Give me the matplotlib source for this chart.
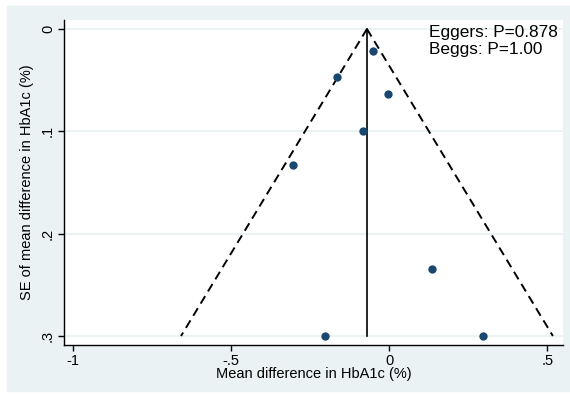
"""Funnel plot of mean difference in HbA1c vs its standard error."""
import numpy as np
import matplotlib.pyplot as plt
import matplotlib.patches as mpatches

# study estimates
MEAN_DIFF = [-0.05, -0.164, -0.002, -0.083, -0.303, 0.136, -0.203, 0.296]
SE = [0.0215, 0.0466, 0.0638, 0.0997, 0.1326, 0.235, 0.300, 0.300]
POOLED = -0.07
SE_MAX = 0.30
X_TICKS = [-1, -0.5, 0, 0.5]
X_TICKLABELS = ["-1", "-.5", "0", ".5"]
Y_TICKS = [0, 0.1, 0.2, 0.3]
Y_TICKLABELS = ["0", ".1", ".2", ".3"]
NOTE = "Eggers: P=0.878\nBeggs: P=1.00"

BG = "#eaf2f3"
NAVY = "#1a476f"

plt.rcParams["font.family"] = ["Liberation Sans", "DejaVu Sans"]

fig = plt.figure(figsize=(5.7, 3.96), dpi=100, facecolor="white")
# light blue graph region (white margin left/top/bottom as in the reference)
fig.patches.append(mpatches.Rectangle((7 / 570, 5 / 396), 1 - 7 / 570, 1 - 11 / 396,
                                      transform=fig.transFigure, color=BG, zorder=-10))

ax = fig.add_axes([64 / 570, 51 / 396, 499 / 570, 325 / 396])
ax.set_zorder(1)
ax.set_facecolor("white")

# horizontal grid
for y in Y_TICKS:
    ax.axhline(y, color=BG, lw=1.5, zorder=1)

# pseudo 95% confidence limits
se_line = np.array([0, SE_MAX])
ax.plot(POOLED - 1.96 * se_line, se_line, color="black", ls=(0, (4.5, 2.8)), lw=1.4, zorder=2)
ax.plot(POOLED + 1.96 * se_line, se_line, color="black", ls=(0, (4.5, 2.8)), lw=1.4, zorder=2)
ax.plot([POOLED, POOLED], [0, SE_MAX], color="black", lw=1.2, zorder=2)

ax.scatter(MEAN_DIFF, SE, s=36, color=NAVY, zorder=3, linewidths=0)

ax.set_xlim(-1.028, 0.55)
ax.set_ylim(0.3088, -0.0088)
ax.set_xticks(X_TICKS)
ax.set_xticklabels(X_TICKLABELS)
ax.set_yticks(Y_TICKS)
ax.set_yticklabels(Y_TICKLABELS, rotation=90, va="center")
ax.tick_params(direction="out", length=4.5, width=1, labelsize=10.5, pad=2)

for side in ["top", "right"]:
    ax.spines[side].set_visible(False)
for side in ["left", "bottom"]:
    ax.spines[side].set_linewidth(1)

ax.set_xlabel("Mean difference in HbA1c (%)", fontsize=10.5, labelpad=-1)
ax.set_ylabel("SE of mean difference in HbA1c (%)", fontsize=10.5, labelpad=5)

ax.text(0.127, -0.0035, NOTE, fontsize=12.4, va="top", ha="left", linespacing=1.12, zorder=4)

plt.savefig("out.png", dpi=100, facecolor=fig.get_facecolor())
plt.close()
